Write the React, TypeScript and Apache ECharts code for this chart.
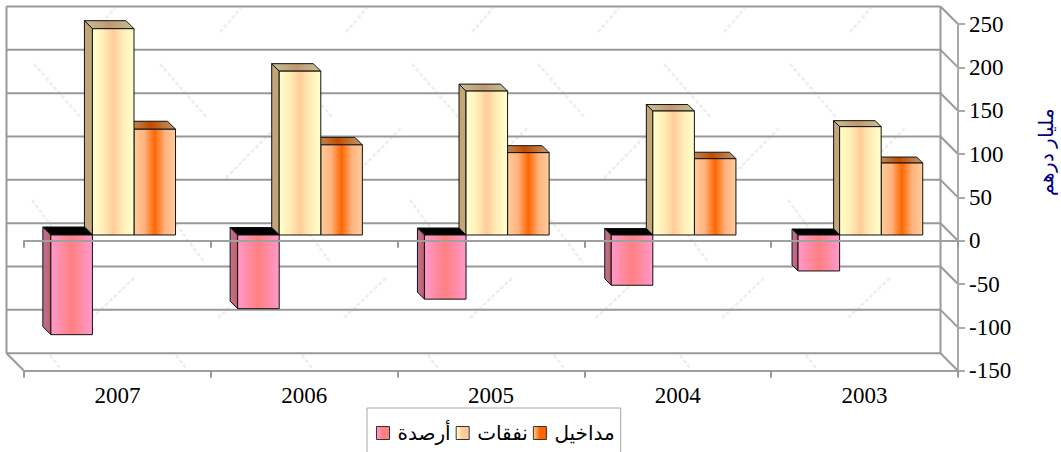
import React, { useEffect, useRef } from "react";
import * as echarts from "echarts";

const categories = ["2007", "2006", "2005", "2004", "2003"];
const incomeName = "مداخيل";
const expenseName = "نفقات";
const balanceName = "أرصدة";
const unitName = "مليار درهم";
const income = [122, 104, 95, 88, 83];
const expense = [238, 189, 166, 143, 125];
const balance = [-115, -85, -74, -58, -41.5];
const gridValues = [250, 200, 150, 100, 50, 0, -50, -100, -150];

const W = 1061, H = 452;
const LEFT = 24, RIGHT = 958, TOP = 24, BOTTOM = 370.7;
const BACK = 17.5;
const PLANE_X = -4.2, PLANE_Y = -5.7;
const WALL = "#999999";

const hGrad = (stops: string[]) =>
  new echarts.graphic.LinearGradient(0, 0, 1, 0, stops.map((color, i) => ({ offset: i / (stops.length - 1), color })));

const looks = {
  income: {
    front: ["#FFCC99", "#FFB380", "#FF6600", "#FFB380", "#FFCC99"],
    top: ["#BF9973", "#BF4D00", "#BF9973"],
    side: ["#BF9973", "#BF9973"],
    legend: ["#FFCC99", "#FF6600", "#FF6600"],
  },
  expense: {
    front: ["#FFFFCC", "#FFEFB8", "#FFCC99", "#FFEFB8", "#FFFFCC"],
    top: ["#C8C096", "#C09870", "#C8C096"],
    side: ["#C2A578", "#C2A578"],
    legend: ["#FFFFCC", "#FFCC99", "#FFCC99"],
  },
  balance: {
    front: ["#FF99CC", "#FF8080", "#FF99CC"],
    top: ["#000000", "#000000"],
    side: ["#BF7399", "#BF6060"],
    legend: ["#FF99CC", "#FF8080", "#FF8080"],
  },
};

function barSeries(name: string, values: number[], slot: number, look: typeof looks.income) {
  return {
    type: "custom",
    name,
    z: 2,
    xAxisIndex: 0,
    data: values.map((v, i) => [i, v]),
    renderItem(_: any, api: any) {
      const idx = api.value(0);
      const val = api.value(1);
      const band = api.size([1, 0])[0];
      const w = band * 0.2225;
      const depth = 8 - 0.5 * idx;
      const pt = api.coord([idx, val]);
      const zero = api.coord([idx, 0]);
      const x = pt[0] + PLANE_X + (slot - 1.5) * w;
      const y0 = Math.min(pt[1], zero[1]) + PLANE_Y;
      const y1 = Math.max(pt[1], zero[1]) + PLANE_Y;
      const edge = { stroke: "#111111", lineWidth: 1 };
      return {
        type: "group",
        children: [
          { type: "polygon", shape: { points: [[x, y0], [x + w, y0], [x + w - depth, y0 - depth], [x - depth, y0 - depth]] }, style: { fill: hGrad(look.top), ...edge } },
          { type: "polygon", shape: { points: [[x, y0], [x, y1], [x - depth, y1 - depth], [x - depth, y0 - depth]] }, style: { fill: hGrad(look.side), ...edge } },
          { type: "polygon", shape: { points: [[x, y0], [x + w, y0], [x + w, y1], [x, y1]] }, style: { fill: hGrad(look.front), ...edge } },
        ],
      };
    },
  };
}

const wallSeries = {
  type: "custom",
  name: "walls",
  z: 1,
  silent: true,
  xAxisIndex: 0,
  data: gridValues.map((v) => [0, v]),
  renderItem(params: any, api: any) {
    const y = api.coord([0, api.value(1)])[1];
    const style = { stroke: WALL, lineWidth: 2, fill: "none" };
    const line = (x1: number, y1: number, x2: number, y2: number) => ({ type: "line", shape: { x1, y1, x2, y2 }, style });
    const children: any[] = [
      line(LEFT - BACK, y - BACK, RIGHT - BACK, y - BACK),
      line(RIGHT - BACK, y - BACK, RIGHT, y),
    ];
    if (params.dataIndex === 0) {
      children.push(line(LEFT - BACK, TOP - BACK, LEFT - BACK, BOTTOM - BACK));
      children.push(line(RIGHT - BACK, TOP - BACK, RIGHT - BACK, BOTTOM - BACK));
      children.push(line(LEFT - BACK, BOTTOM - BACK, LEFT, BOTTOM));
    }
    return { type: "group", children };
  },
};

// Faint background watermark strokes that tile the back wall
function watermark() {
  const out: any[] = [];
  const strokes: [number, number, number, number][] = [
    [94, 32, 115, 8],
    [34, 64, 81, 118],
    [100, 178, 150, 127],
    [32, 200, 79, 263],
    [92, 318, 134, 278],
    [50, 355, 60, 368],
  ];
  for (const [x1, y1, x2, y2] of strokes) {
    for (let k = 0; k < 8; k++) {
      const dx = k * 126;
      if (x2 + dx > 940) continue;
      out.push({
        type: "line",
        z: 0,
        silent: true,
        shape: { x1: x1 + dx, y1, x2: x2 + dx, y2 },
        style: { stroke: "#eeeeee", lineWidth: 2.5, lineDash: [4, 2] },
      });
    }
  }
  return out;
}

export default function App() {
  const ref = useRef<HTMLDivElement>(null);
  useEffect(() => {
    const chart = echarts.init(ref.current!, undefined, { renderer: "svg" });
    const legendItem = (name: string, stops: string[]) => ({
      name,
      icon: "rect",
      itemStyle: { color: hGrad(stops), borderColor: "#333333", borderWidth: 1 },
    });
    const catAxis = (extra: any) => ({
      type: "category",
      data: categories,
      z: 3,
      axisTick: { show: true, length: 7, alignWithLabel: false, lineStyle: { color: "#999999", width: 2 } },
      axisLine: { show: true, lineStyle: { color: "#a0a0a0", width: 2 } },
      splitLine: { show: false },
      ...extra,
    });
    chart.setOption({
      animation: false,
      backgroundColor: "#ffffff",
      grid: { left: LEFT, top: TOP, width: RIGHT - LEFT, height: BOTTOM - TOP, containLabel: false },
      legend: {
        left: 367,
        top: 408,
        orient: "horizontal",
        itemWidth: 13,
        itemHeight: 13,
        itemGap: 5,
        padding: [15, 6, 20, 9],
        borderColor: "#a6a6a6",
        borderWidth: 1,
        backgroundColor: "#ffffff",
        textStyle: {
          fontFamily: "'Liberation Sans', 'DejaVu Sans', sans-serif",
          fontSize: 20,
          color: "#000000",
          padding: [0, 0, 0, 3],
        },
        data: [
          legendItem(balanceName, looks.balance.legend),
          legendItem(expenseName, looks.expense.legend),
          legendItem(incomeName, looks.income.legend),
        ],
      },
      xAxis: [
        catAxis({
          position: "bottom",
          axisLine: { show: true, onZero: false, lineStyle: { color: "#a0a0a0", width: 2 } },
          axisLabel: { show: true, margin: 13, fontFamily: "'Liberation Serif'", fontSize: 23, color: "#000000" },
        }),
        catAxis({
          position: "bottom",
          axisLine: { show: true, onZero: true, lineStyle: { color: "#a0a0a0", width: 2 } },
          axisLabel: { show: false },
        }),
      ],
      yAxis: {
        type: "value",
        position: "right",
        min: -150,
        max: 250,
        interval: 50,
        z: 3,
        axisLine: { show: true, onZero: false, lineStyle: { color: "#a9a9a9", width: 2 } },
        axisTick: { show: true, length: 7, lineStyle: { color: "#a9a9a9", width: 2 } },
        axisLabel: { margin: 11, fontFamily: "'Liberation Serif'", fontSize: 23, color: "#000000" },
        splitLine: { show: false },
      },
      graphic: [
        ...watermark(),
        {
          type: "text",
          x: 1046,
          y: 152,
          rotation: Math.PI / 2,
          style: {
            text: unitName,
            fill: "#000080",
            fontFamily: "'Liberation Serif', 'DejaVu Serif', serif",
            fontSize: 20,
            textAlign: "center",
            textVerticalAlign: "middle",
          },
        },
      ],
      series: [
        wallSeries,
        barSeries(incomeName, income, 2, looks.income),
        barSeries(expenseName, expense, 1, looks.expense),
        barSeries(balanceName, balance, 0, looks.balance),
      ],
    });
    return () => chart.dispose();
  }, []);
  return <div ref={ref} style={{ position: "fixed", left: 0, top: 0, width: W, height: H }} />;
}
